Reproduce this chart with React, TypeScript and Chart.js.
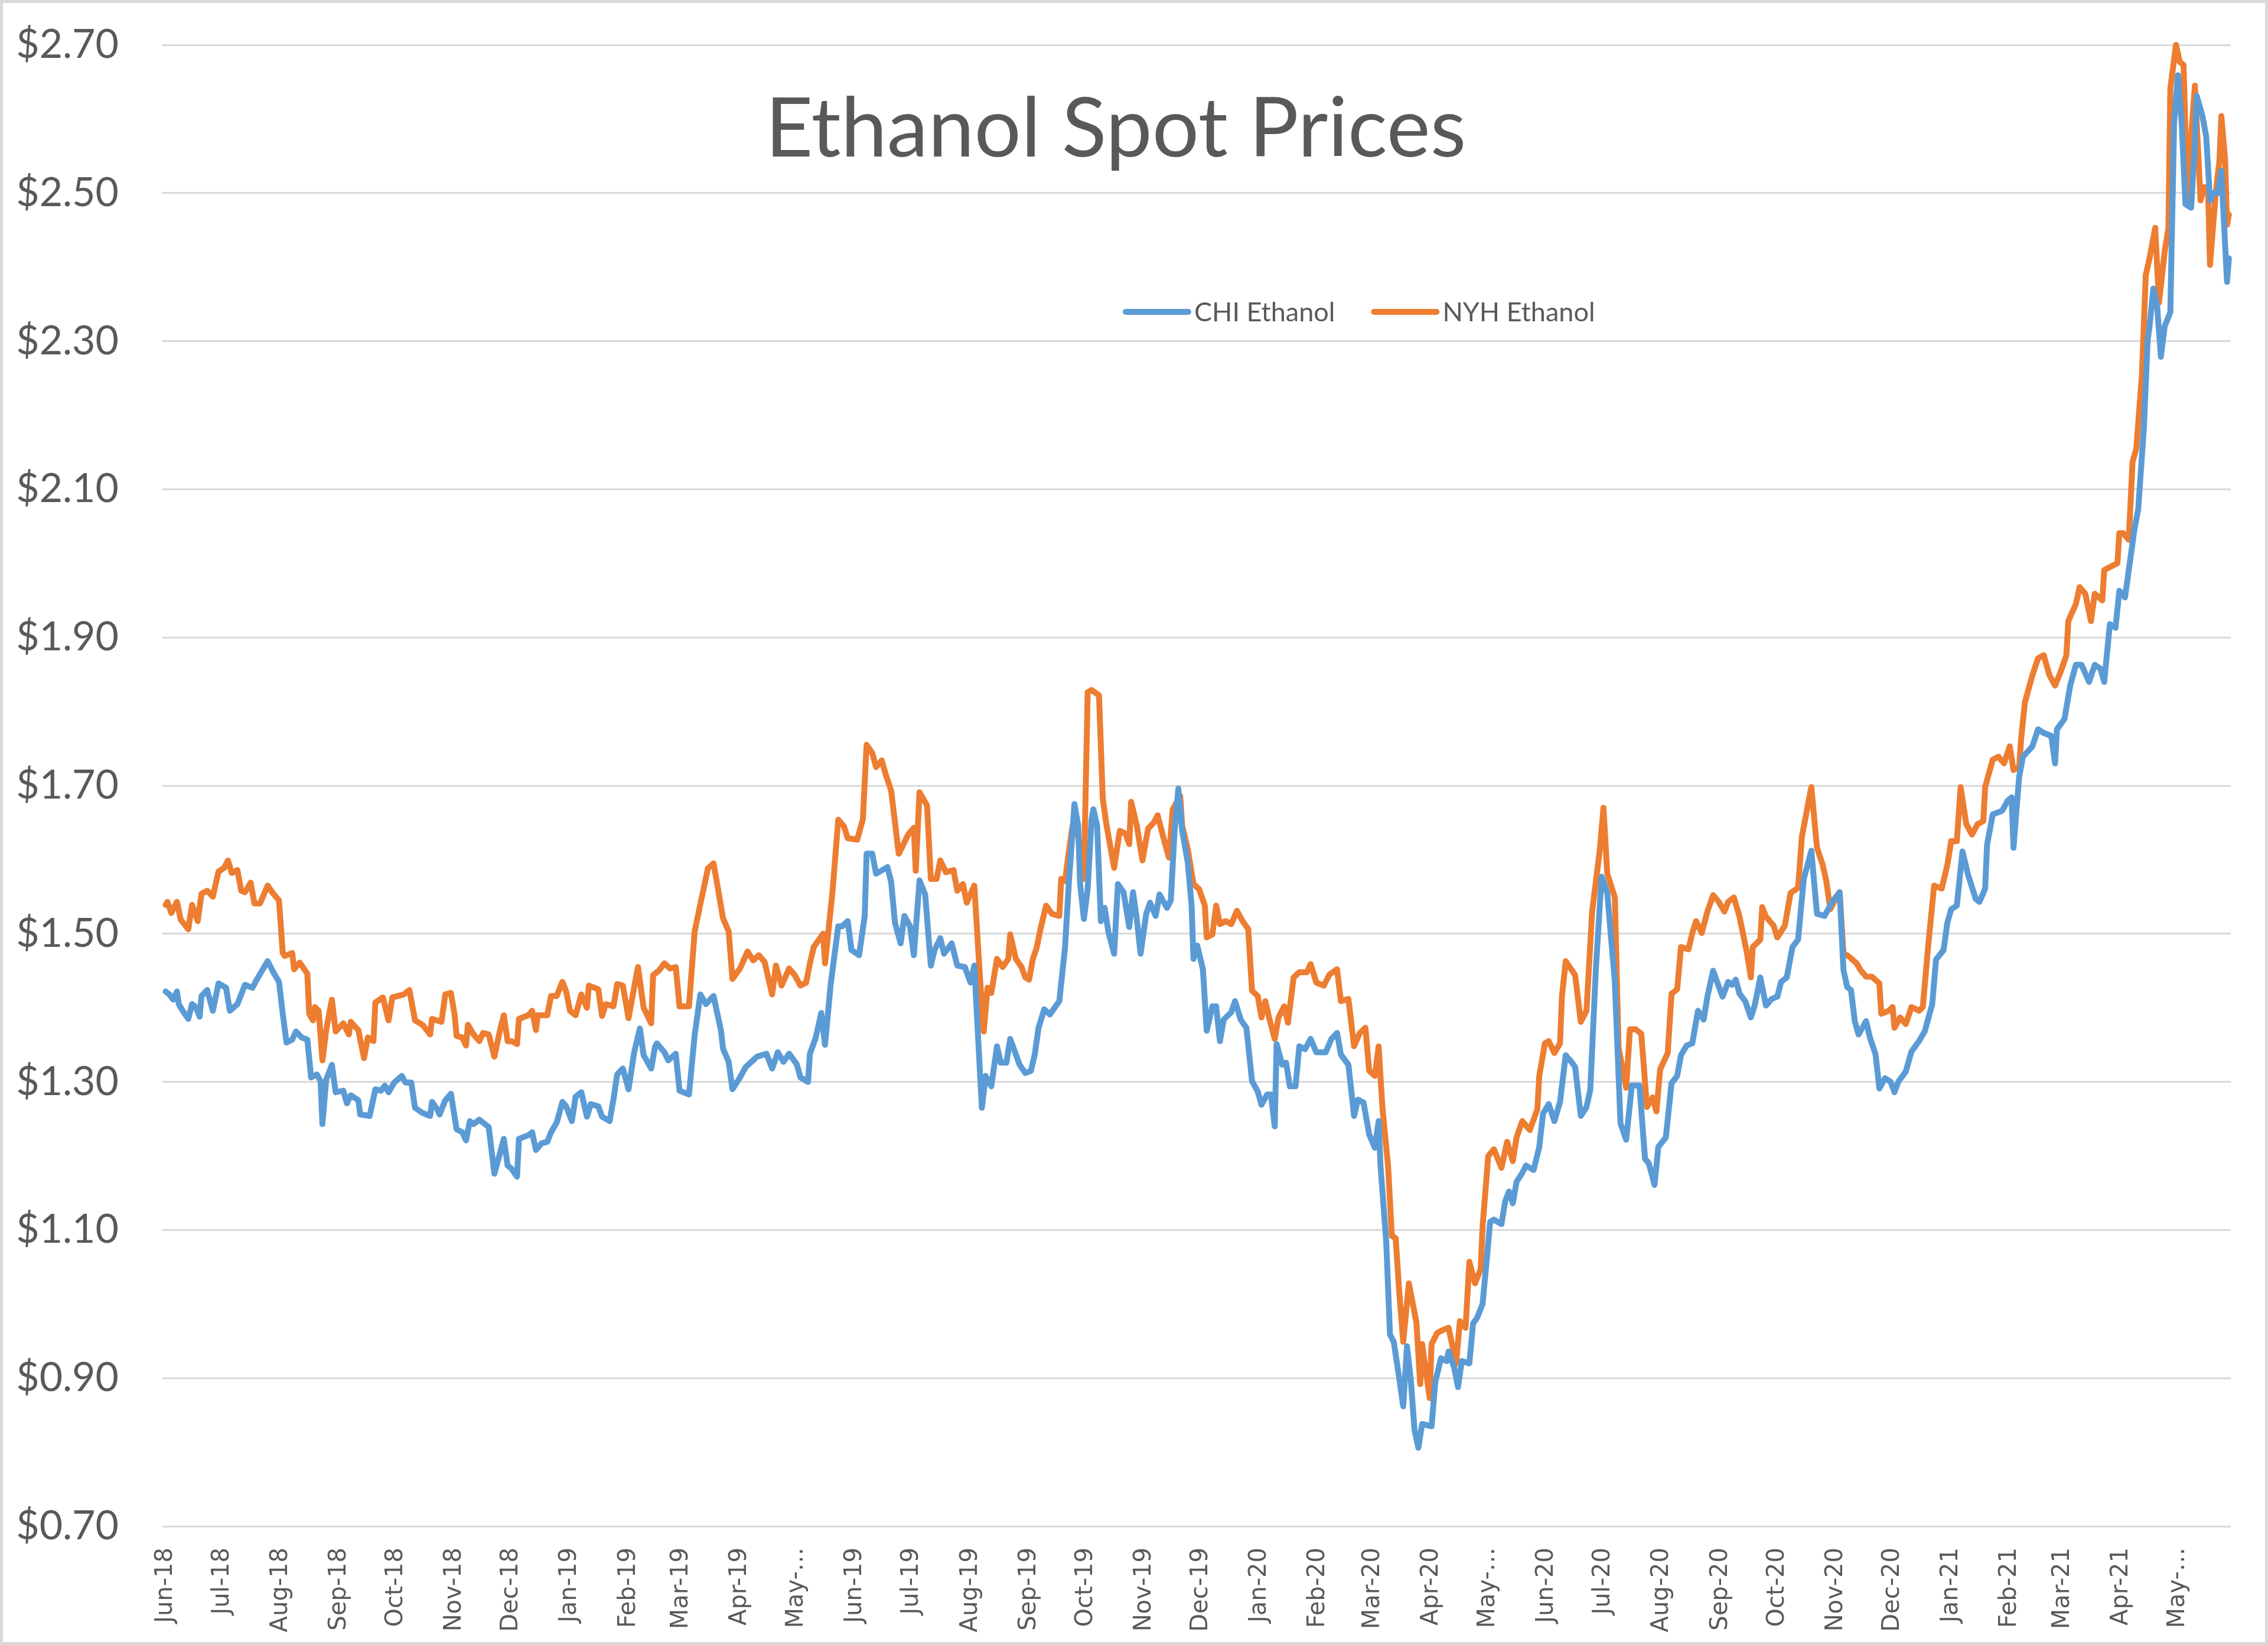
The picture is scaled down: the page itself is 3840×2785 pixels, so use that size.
import React, { useEffect, useRef } from 'react';
import { Chart, registerables } from 'chart.js';

Chart.register(...registerables);

const W = 3840;
const H = 2785;

const TITLE = 'Ethanol Spot Prices';
const SERIES_NAMES = ['CHI Ethanol', 'NYH Ethanol'];
const SERIES_COLORS = ['#5B9BD5', '#ED7D31'];

// Month tick labels (first of each month, starting June 2018)
const TICK_LABELS = [
  'Jun-18', 'Jul-18', 'Aug-18', 'Sep-18', 'Oct-18', 'Nov-18', 'Dec-18',
  'Jan-19', 'Feb-19', 'Mar-19', 'Apr-19', 'May-…', 'Jun-19', 'Jul-19', 'Aug-19', 'Sep-19', 'Oct-19', 'Nov-19', 'Dec-19',
  'Jan-20', 'Feb-20', 'Mar-20', 'Apr-20', 'May-…', 'Jun-20', 'Jul-20', 'Aug-20', 'Sep-20', 'Oct-20', 'Nov-20', 'Dec-20',
  'Jan-21', 'Feb-21', 'Mar-21', 'Apr-21', 'May-…',
];

// Days since 2018-06-01
const CHI_DAYS = [
  0, 2, 4, 6, 7, 9, 12, 14, 16, 18, 19, 22, 25, 28, 32, 34, 38, 42, 46, 48, 51, 54, 57, 60, 62, 64, 67, 69, 72, 75,
  77, 80, 82, 83, 85, 88, 90, 94, 96, 98, 102, 103, 108, 111, 114, 116, 118, 121, 125, 127, 130, 132, 136, 140, 141, 144, 145, 148, 151, 154,
  157, 159, 161, 163, 166, 168, 171, 174, 179, 181, 183, 186, 187, 192, 194, 196, 199, 202, 204, 207, 210, 212, 215, 217, 220, 223, 225, 229, 231, 235,
  237, 239, 242, 245, 248, 251, 253, 257, 259, 260, 264, 266, 270, 272, 277, 280, 283, 286, 290, 294, 295, 298, 300, 304, 307, 313, 318, 321, 324, 327,
  330, 334, 336, 340, 341, 344, 347, 349, 352, 356, 358, 361, 363, 367, 370, 371, 374, 376, 382, 384, 386, 389, 391, 394, 396, 399, 402, 405, 407, 410,
  412, 416, 419, 423, 426, 428, 432, 434, 437, 440, 442, 445, 447, 449, 452, 455, 458, 460, 462, 465, 468, 473, 476, 478, 481, 483, 484, 486, 488, 490,
  491, 493, 495, 497, 499, 502, 504, 507, 510, 512, 514, 516, 519, 521, 524, 526, 530, 532, 534, 536, 538, 541, 543, 544, 546, 549, 551, 554, 556, 558,
  560, 564, 566, 569, 572, 575, 578, 580, 583, 585, 587, 588, 591, 593, 595, 598, 600, 603, 606, 609, 614, 617, 620, 622, 626, 629, 631, 634, 637, 640,
  642, 643, 646, 648, 650, 653, 655, 657, 659, 661, 663, 665, 670, 672, 675, 678, 679, 682, 684, 686, 690, 692, 694, 697, 699, 701, 703, 707, 709, 711,
  713, 715, 718, 720, 724, 727, 729, 732, 735, 738, 741, 744, 746, 749, 752, 754, 757, 760, 763, 767, 770, 773, 776, 780, 783, 785, 788, 790, 794, 797,
  800, 802, 805, 808, 811, 814, 816, 819, 824, 827, 829, 831, 833, 836, 839, 841, 844, 847, 850, 853, 855, 858, 861, 864, 867, 871, 874, 878, 882, 886,
  888, 890, 892, 894, 896, 900, 902, 905, 907, 910, 913, 915, 917, 921, 924, 928, 931, 935, 937, 941, 943, 945, 948, 951, 954, 958, 960, 963, 964, 967,
  972, 975, 977, 978, 981, 983, 988, 991, 994, 998, 1000, 1001, 1005, 1008, 1011, 1014, 1018, 1021, 1024, 1026, 1029, 1032, 1034, 1037, 1040, 1042, 1044, 1047, 1049, 1050,
  1052, 1054, 1056, 1058, 1061, 1062, 1063, 1065, 1067, 1069, 1072, 1074, 1075, 1078, 1080, 1082, 1084, 1086, 1088, 1091, 1092,
];
const CHI_PRICES = [
  1.422, 1.418, 1.411, 1.422, 1.405, 1.396, 1.385, 1.405, 1.401, 1.388, 1.416, 1.424, 1.396, 1.433, 1.427, 1.396, 1.405, 1.431, 1.427, 1.437, 1.45, 1.463, 1.448, 1.435, 1.392, 1.353, 1.357, 1.368, 1.36, 1.357,
  1.306, 1.31, 1.301, 1.243, 1.303, 1.323, 1.286, 1.288, 1.271, 1.282, 1.275, 1.256, 1.254, 1.29, 1.288, 1.295, 1.286, 1.299, 1.308, 1.299, 1.299, 1.265, 1.258, 1.254, 1.273, 1.262, 1.256, 1.275, 1.284, 1.236,
  1.232, 1.221, 1.247, 1.243, 1.249, 1.245, 1.239, 1.176, 1.223, 1.187, 1.183, 1.172, 1.223, 1.228, 1.232, 1.208, 1.217, 1.219, 1.232, 1.245, 1.273, 1.267, 1.247, 1.28, 1.286, 1.253, 1.27, 1.267, 1.253, 1.247,
  1.276, 1.31, 1.318, 1.29, 1.34, 1.372, 1.336, 1.318, 1.347, 1.352, 1.34, 1.329, 1.338, 1.288, 1.283, 1.363, 1.418, 1.405, 1.416, 1.368, 1.345, 1.327, 1.29, 1.306, 1.32, 1.334, 1.338, 1.318, 1.34, 1.327,
  1.338, 1.324, 1.306, 1.3, 1.338, 1.359, 1.393, 1.35, 1.432, 1.51, 1.51, 1.517, 1.478, 1.471, 1.524, 1.608, 1.608, 1.581, 1.59, 1.57, 1.515, 1.487, 1.524, 1.51, 1.471, 1.572, 1.553, 1.457, 1.478, 1.494,
  1.473, 1.487, 1.457, 1.455, 1.434, 1.457, 1.265, 1.308, 1.294, 1.348, 1.326, 1.326, 1.358, 1.344, 1.323, 1.312, 1.315, 1.337, 1.373, 1.398, 1.391, 1.409, 1.481, 1.567, 1.675, 1.646, 1.567, 1.52, 1.56, 1.653,
  1.668, 1.646, 1.517, 1.535, 1.502, 1.473, 1.567, 1.556, 1.509, 1.556, 1.52, 1.473, 1.527, 1.542, 1.524, 1.553, 1.535, 1.545, 1.639, 1.696, 1.639, 1.596, 1.538, 1.466, 1.484, 1.452, 1.369, 1.402, 1.402, 1.355,
  1.384, 1.394, 1.409, 1.384, 1.373, 1.301, 1.287, 1.269, 1.283, 1.283, 1.24, 1.351, 1.323, 1.326, 1.294, 1.294, 1.348, 1.344, 1.358, 1.34, 1.34, 1.358, 1.366, 1.337, 1.323, 1.254, 1.276, 1.272, 1.229, 1.211,
  1.247, 1.186, 1.085, 0.959, 0.949, 0.898, 0.862, 0.943, 0.898, 0.83, 0.806, 0.838, 0.835, 0.895, 0.927, 0.923, 0.936, 0.914, 0.888, 0.923, 0.92, 0.974, 0.981, 1.0, 1.054, 1.111, 1.114, 1.108, 1.139, 1.152,
  1.136, 1.165, 1.177, 1.187, 1.181, 1.212, 1.257, 1.27, 1.247, 1.273, 1.336, 1.327, 1.32, 1.254, 1.266, 1.289, 1.454, 1.577, 1.555, 1.435, 1.244, 1.222, 1.295, 1.295, 1.196, 1.19, 1.161, 1.212, 1.225, 1.298,
  1.308, 1.336, 1.349, 1.352, 1.396, 1.384, 1.415, 1.45, 1.415, 1.435, 1.431, 1.438, 1.419, 1.409, 1.387, 1.403, 1.441, 1.403, 1.412, 1.415, 1.435, 1.441, 1.482, 1.492, 1.574, 1.612, 1.527, 1.524, 1.543, 1.556,
  1.451, 1.428, 1.424, 1.382, 1.364, 1.382, 1.36, 1.337, 1.291, 1.305, 1.3, 1.286, 1.3, 1.314, 1.341, 1.355, 1.368, 1.405, 1.465, 1.478, 1.515, 1.533, 1.538, 1.611, 1.579, 1.547, 1.543, 1.561, 1.62, 1.661,
  1.666, 1.68, 1.684, 1.616, 1.712, 1.739, 1.753, 1.776, 1.771, 1.767, 1.73, 1.776, 1.79, 1.835, 1.863, 1.863, 1.84, 1.863, 1.858, 1.84, 1.918, 1.913, 1.963, 1.954, 2.009, 2.046, 2.073, 2.183, 2.302, 2.32,
  2.371, 2.348, 2.279, 2.32, 2.339, 2.467, 2.595, 2.659, 2.595, 2.485, 2.48, 2.567, 2.631, 2.604, 2.576, 2.49, 2.5, 2.5, 2.53, 2.38, 2.412,
];

const NYH_DAYS = [
  0, 1, 3, 6, 8, 12, 14, 17, 19, 22, 25, 28, 31, 33, 35, 38, 40, 42, 45, 47, 50, 54, 57, 60, 62, 63, 67, 68, 71, 75,
  76, 78, 79, 81, 83, 85, 88, 90, 94, 97, 98, 102, 105, 107, 110, 111, 115, 118, 120, 123, 126, 129, 132, 136, 140, 141, 146, 148, 151, 153,
  154, 157, 159, 160, 163, 166, 168, 171, 174, 177, 179, 181, 183, 186, 187, 192, 194, 196, 197, 202, 204, 207, 210, 212, 214, 217, 220, 223, 224, 229,
  231, 233, 237, 239, 242, 245, 247, 250, 253, 257, 258, 261, 264, 267, 270, 272, 277, 280, 283, 287, 290, 293, 295, 298, 300, 304, 308, 311, 314, 317,
  321, 323, 326, 330, 333, 336, 339, 341, 343, 348, 349, 353, 356, 359, 361, 366, 369, 371, 374, 376, 379, 381, 384, 388, 390, 393, 396, 397, 399, 403,
  405, 408, 410, 413, 417, 419, 422, 424, 428, 431, 433, 435, 437, 440, 443, 446, 447, 450, 453, 455, 457, 459, 461, 463, 466, 469, 473, 474, 476, 478,
  480, 482, 485, 486, 488, 490, 494, 496, 498, 502, 505, 508, 510, 511, 514, 517, 520, 523, 525, 529, 531, 533, 537, 538, 541, 544, 547, 550, 551, 554,
  556, 558, 561, 564, 567, 570, 573, 575, 578, 580, 582, 584, 587, 589, 592, 594, 597, 600, 604, 606, 609, 613, 616, 620, 622, 626, 629, 632, 635, 637,
  640, 642, 644, 647, 649, 651, 653, 655, 658, 662, 664, 665, 669, 670, 673, 676, 679, 683, 685, 688, 690, 693, 696, 697, 700, 703, 707, 710, 713, 715,
  718, 722, 726, 727, 730, 732, 735, 738, 739, 741, 746, 749, 752, 755, 759, 761, 763, 767, 769, 773, 775, 778, 781, 784, 787, 789, 791, 795, 797, 800,
  802, 806, 808, 810, 813, 816, 819, 822, 825, 827, 830, 833, 837, 839, 840, 844, 845, 847, 851, 853, 857, 860, 864, 866, 871, 874, 877, 879, 881, 883,
  886, 888, 891, 895, 897, 900, 903, 907, 908, 912, 914, 915, 918, 921, 924, 928, 930, 933, 936, 940, 943, 945, 948, 950, 953, 956, 959, 962, 963, 967,
  970, 973, 976, 978, 981, 982, 984, 988, 991, 994, 997, 1000, 1003, 1006, 1007, 1011, 1013, 1016, 1019, 1021, 1025, 1026, 1029, 1033, 1034, 1036, 1039, 1041, 1043, 1046,
  1048, 1050, 1053, 1055, 1058, 1060, 1061, 1064, 1066, 1068, 1070, 1072, 1074, 1077, 1079, 1081, 1082, 1085, 1087, 1088, 1090, 1091, 1092,
];
const NYH_PRICES = [
  1.539, 1.543, 1.528, 1.543, 1.519, 1.506, 1.539, 1.517, 1.554, 1.558, 1.55, 1.584, 1.589, 1.599, 1.582, 1.586, 1.558, 1.556, 1.569, 1.541, 1.541, 1.565, 1.554, 1.545, 1.474, 1.47, 1.474, 1.452, 1.461, 1.446,
  1.392, 1.383, 1.401, 1.396, 1.329, 1.37, 1.411, 1.368, 1.379, 1.364, 1.381, 1.37, 1.332, 1.36, 1.355, 1.407, 1.414, 1.383, 1.414, 1.416, 1.418, 1.424, 1.383, 1.377, 1.364, 1.385, 1.381, 1.418, 1.42, 1.39,
  1.362, 1.36, 1.349, 1.377, 1.364, 1.355, 1.366, 1.364, 1.334, 1.37, 1.39, 1.355, 1.355, 1.351, 1.385, 1.39, 1.396, 1.37, 1.39, 1.39, 1.416, 1.416, 1.435, 1.422, 1.396, 1.39, 1.418, 1.4, 1.43, 1.425,
  1.389, 1.405, 1.402, 1.432, 1.43, 1.386, 1.414, 1.455, 1.4, 1.379, 1.444, 1.45, 1.46, 1.453, 1.455, 1.402, 1.402, 1.503, 1.54, 1.588, 1.595, 1.551, 1.521, 1.503, 1.439, 1.453, 1.476, 1.464, 1.471, 1.462,
  1.418, 1.457, 1.43, 1.453, 1.444, 1.43, 1.434, 1.46, 1.482, 1.5, 1.46, 1.558, 1.654, 1.645, 1.629, 1.627, 1.654, 1.755, 1.744, 1.725, 1.734, 1.716, 1.693, 1.608, 1.618, 1.634, 1.643, 1.585, 1.691, 1.673,
  1.574, 1.574, 1.599, 1.583, 1.586, 1.558, 1.567, 1.542, 1.565, 1.441, 1.368, 1.427, 1.42, 1.466, 1.455, 1.466, 1.499, 1.466, 1.455, 1.441, 1.438, 1.466, 1.481, 1.506, 1.538, 1.527, 1.524, 1.574, 1.571, 1.61,
  1.646, 1.65, 1.589, 1.574, 1.826, 1.829, 1.822, 1.682, 1.646, 1.589, 1.639, 1.635, 1.621, 1.678, 1.646, 1.599, 1.642, 1.65, 1.66, 1.621, 1.603, 1.668, 1.686, 1.646, 1.614, 1.567, 1.56, 1.538, 1.495, 1.499,
  1.538, 1.513, 1.517, 1.513, 1.531, 1.517, 1.506, 1.423, 1.416, 1.387, 1.409, 1.387, 1.358, 1.387, 1.402, 1.38, 1.441, 1.448, 1.448, 1.459, 1.434, 1.43, 1.445, 1.452, 1.409, 1.412, 1.348, 1.366, 1.373, 1.315,
  1.308, 1.348, 1.265, 1.186, 1.092, 1.089, 1.013, 0.949, 1.028, 0.975, 0.892, 0.946, 0.873, 0.946, 0.961, 0.965, 0.968, 0.92, 0.977, 0.968, 1.057, 1.028, 1.047, 1.104, 1.2, 1.209, 1.184, 1.219, 1.193, 1.225,
  1.247, 1.235, 1.263, 1.308, 1.352, 1.355, 1.339, 1.352, 1.415, 1.463, 1.444, 1.381, 1.396, 1.53, 1.612, 1.67, 1.581, 1.549, 1.346, 1.292, 1.371, 1.371, 1.365, 1.266, 1.279, 1.26, 1.317, 1.339, 1.419, 1.425,
  1.482, 1.479, 1.501, 1.517, 1.501, 1.53, 1.552, 1.543, 1.53, 1.543, 1.549, 1.523, 1.473, 1.441, 1.482, 1.492, 1.536, 1.523, 1.511, 1.495, 1.511, 1.555, 1.562, 1.631, 1.698, 1.616, 1.593, 1.57, 1.533, 1.543,
  1.556, 1.474, 1.469, 1.46, 1.451, 1.442, 1.442, 1.433, 1.392, 1.396, 1.401, 1.373, 1.387, 1.378, 1.401, 1.396, 1.401, 1.488, 1.565, 1.561, 1.593, 1.625, 1.625, 1.698, 1.648, 1.634, 1.648, 1.652, 1.698, 1.735,
  1.739, 1.73, 1.753, 1.721, 1.725, 1.762, 1.812, 1.849, 1.872, 1.876, 1.849, 1.835, 1.854, 1.876, 1.922, 1.945, 1.968, 1.959, 1.922, 1.959, 1.95, 1.991, 1.995, 2.0, 2.041, 2.041, 2.032, 2.137, 2.155, 2.256,
  2.389, 2.412, 2.453, 2.352, 2.421, 2.453, 2.641, 2.7, 2.677, 2.673, 2.49, 2.576, 2.645, 2.49, 2.508, 2.503, 2.403, 2.499, 2.544, 2.604, 2.544, 2.457, 2.471,
];

const Y_MIN = 0.7;
const Y_MAX = 2.7;
const Y_STEP = 0.2;

const DAY_MS = 86400000;
const TICK_DAYS = TICK_LABELS.map((_, i) => (Date.UTC(2018, 5 + i, 1) - Date.UTC(2018, 5, 1)) / DAY_MS);

const toPoints = (days: number[], vals: number[]) => days.map((d, i) => ({ x: d, y: vals[i] }));

const decorPlugin = {
  id: 'decor',
  beforeDraw(chart: any) {
    const ctx = chart.ctx;
    ctx.save();
    ctx.fillStyle = '#ffffff';
    ctx.fillRect(0, 0, chart.width, chart.height);
    ctx.restore();
  },
  afterDraw(chart: any) {
    const ctx = chart.ctx;
    ctx.save();
    // outer frame
    ctx.strokeStyle = '#d9d9d9';
    ctx.lineWidth = 5;
    ctx.strokeRect(2.5, 2.5, chart.width - 5, chart.height - 5);
    // title
    ctx.fillStyle = '#595959';
    ctx.font = '140px Lato';
    ctx.textAlign = 'center';
    ctx.textBaseline = 'alphabetic';
    ctx.fillText(TITLE, 1889, 265);
    // legend
    ctx.font = '45px Lato';
    ctx.textAlign = 'left';
    let x = 1902;
    const yLine = 528;
    chart.data.datasets.forEach((ds: any) => {
      ctx.strokeStyle = ds.borderColor;
      ctx.lineWidth = 10;
      ctx.lineCap = 'round';
      ctx.beginPath();
      ctx.moveTo(x + 4, yLine);
      ctx.lineTo(x + 110, yLine);
      ctx.stroke();
      ctx.fillStyle = '#595959';
      ctx.fillText(ds.label, x + 120, yLine + 16);
      x += 120 + ctx.measureText(ds.label).width + 62;
    });
    ctx.restore();
  },
};

export default function App() {
  const ref = useRef<HTMLCanvasElement | null>(null);

  useEffect(() => {
    const canvas = ref.current;
    if (!canvas) return;
    const chart = new Chart(canvas, {
      type: 'line',
      data: {
        datasets: [
          {
            label: SERIES_NAMES[0],
            data: toPoints(CHI_DAYS, CHI_PRICES),
            borderColor: SERIES_COLORS[0],
            backgroundColor: SERIES_COLORS[0],
            borderWidth: 10,
            pointRadius: 0,
            tension: 0,
            borderJoinStyle: 'round',
            borderCapStyle: 'round',
            clip: false,
          },
          {
            label: SERIES_NAMES[1],
            data: toPoints(NYH_DAYS, NYH_PRICES),
            borderColor: SERIES_COLORS[1],
            backgroundColor: SERIES_COLORS[1],
            borderWidth: 10,
            pointRadius: 0,
            tension: 0,
            borderJoinStyle: 'round',
            borderCapStyle: 'round',
            clip: false,
          },
        ],
      } as any,
      options: {
        responsive: false,
        maintainAspectRatio: false,
        devicePixelRatio: 1,
        animation: false,
        events: [],
        layout: { padding: { top: 76, right: 63, left: 0, bottom: 0 } },
        plugins: {
          legend: { display: false },
          title: { display: false },
          tooltip: { enabled: false },
        },
        scales: {
          x: {
            type: 'linear',
            min: -2,
            max: 1093,
            bounds: 'data',
            grid: { display: false },
            border: { display: false },
            afterBuildTicks: (s: any) => {
              s.ticks = TICK_DAYS.map((v) => ({ value: v }));
            },
            afterFit: (s: any) => {
              s.height = 201;
            },
            ticks: {
              autoSkip: false,
              minRotation: 90,
              maxRotation: 90,
              padding: 28,
              color: '#595959',
              font: { family: 'DejaVu Sans', size: 40 },
              callback: (_v: any, i: number) => TICK_LABELS[i],
            },
          },
          y: {
            type: 'linear',
            min: Y_MIN,
            max: Y_MAX,
            afterFit: (s: any) => {
              s.width = 274;
              s.paddingTop = 0;
              s.paddingBottom = 0;
            },
            grid: { color: '#d9d9d9', lineWidth: 3, drawTicks: false },
            border: { display: false },
            ticks: {
              stepSize: Y_STEP,
              padding: 73,
              color: '#595959',
              font: { family: 'Lato', size: 68 },
              callback: (v: any) => '$' + Number(v).toFixed(2),
            },
          },
        },
      } as any,
      plugins: [decorPlugin],
    });
    if ((document as any).fonts && (document as any).fonts.ready) {
      (document as any).fonts.ready.then(() => chart.update());
    }
    return () => chart.destroy();
  }, []);

  return (
    <div style={{ position: 'absolute', left: 0, top: 0, width: W, height: H, background: '#fff' }}>
      <canvas ref={ref} width={W} height={H} style={{ width: W, height: H, display: 'block' }} />
    </div>
  );
}
